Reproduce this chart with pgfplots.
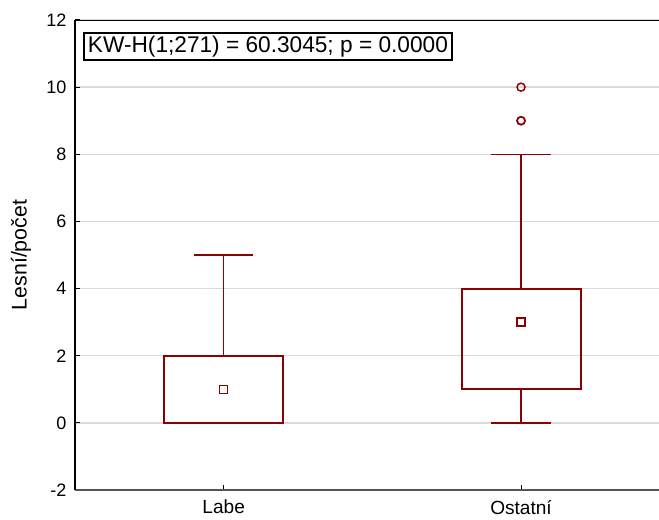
\documentclass[border=0pt]{standalone}
\usepackage{fontspec}
\setmainfont{Liberation Sans}
\usepackage{pgfplots}
\pgfplotsset{compat=1.18}
\usepgfplotslibrary{statistics}
\definecolor{boxred}{RGB}{139,0,0}
\definecolor{gridgray}{RGB}{218,218,218}
\definecolor{baseaxis}{RGB}{85,85,85}
\begin{document}
\begin{tikzpicture}
\begin{axis}[
  scale only axis,
  width=438pt, height=352.5pt,
  xmin=-0.5, xmax=1.464,
  ymin=-2, ymax=12,
  ytick={-2,0,...,12},
  xtick={0,1},
  xticklabels={Labe, Ostatní},
  axis y line*=left,
  axis x line*=bottom,
  y axis line style={black, line width=1pt},
  x axis line style={baseaxis, line width=1.6pt},
  tick align=inside,
  major tick length=3.5pt,
  tick style={black, line width=0.8pt},
  ymajorgrids,
  grid style={gridgray, line width=1pt},
  /pgf/number format/assume math mode=true,
  yticklabel style={font=\fontsize{13.5}{16}\selectfont, xshift=-3pt},
  xticklabel style={font=\fontsize{14.3}{17}\selectfont, yshift=-4pt},
  ylabel={Lesní/počet},
  every axis y label/.style={at={(axis description cs:-0.0925,0.5)}, anchor=center, rotate=90, font=\fontsize{16}{19}\selectfont},
  boxplot/draw direction=y,
  boxplot/box extend=0.4,
  boxplot/whisker extend=0.2,
  boxplot/every box/.style={draw=boxred, line width=1.5pt},
  boxplot/every whisker/.style={draw=boxred, line width=1.1pt},
  boxplot/draw/median/.code={},
]
% box: 25%-75%, whiskers: non-outlier range
\addplot[color=boxred, mark=o, mark size=3pt, mark options={draw=boxred, line width=1.1pt},
  boxplot prepared={draw position=0,
    lower whisker=0, lower quartile=0, median=1,
    upper quartile=2, upper whisker=5}]
  coordinates {};
\addplot[color=boxred, mark=o, mark size=3pt, mark options={draw=boxred, line width=1.1pt},
  boxplot prepared={draw position=1,
    lower whisker=0, lower quartile=1, median=3,
    upper quartile=4, upper whisker=8}]
  table[row sep=\\, y index=0] {9\\ 9\\ 10\\};
% medians
\addplot[color=boxred, only marks, mark=square, mark size=3pt,
  mark options={draw=boxred, fill=white, line width=1pt}]
  coordinates {(0,1)};
\addplot[color=boxred, only marks, mark=square, mark size=3pt,
  mark options={draw=boxred, fill=white, line width=1pt}]
  coordinates {(1,3)};
% top frame line with its ticks
\draw[black, line width=1pt] (rel axis cs:0,1) -- (rel axis cs:1,1);
\draw[black, line width=0.8pt] (axis cs:0,12) -- ++(0,-3.5pt);
\draw[black, line width=0.8pt] (axis cs:1,12) -- ++(0,-3.5pt);
\node[draw=black, line width=1.4pt, fill=white, anchor=north west,
  inner xsep=3pt, inner ysep=2.3pt, font=\fontsize{17}{20}\selectfont]
  at ([shift={(6pt,-9pt)}]rel axis cs:0,1) {KW-H(1;271) = 60.3045; p = 0.0000};
\coordinate (bl) at (rel axis cs:0,0);
\coordinate (tr) at (rel axis cs:1,1);
\end{axis}
\pgfresetboundingbox
\path ([shift={(-56.25pt,-21.75pt)}]bl) rectangle ([shift={(0pt,15pt)}]tr);
\end{tikzpicture}
\end{document}
